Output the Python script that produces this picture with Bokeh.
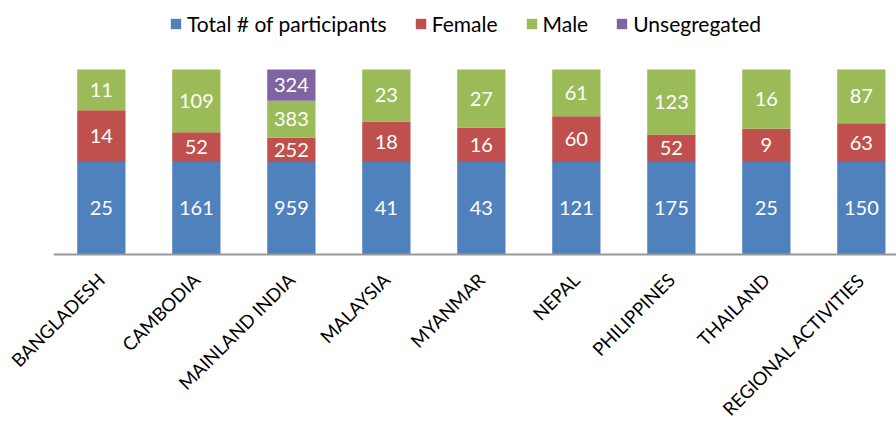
import numpy as np
from bokeh.plotting import figure
from bokeh.models import ColumnDataSource, Range1d, Legend, LegendItem, LabelSet
from bokeh.core.properties import value
from bokeh.embed import file_html
from bokeh.resources import INLINE

countries = ["BANGLADESH", "CAMBODIA", "MAINLAND INDIA", "MALAYSIA", "MYANMAR",
             "NEPAL", "PHILIPPINES", "THAILAND", "REGIONAL ACTIVITIES"]
total = [25, 161, 959, 41, 43, 121, 175, 25, 150]
female = [14, 52, 252, 18, 16, 60, 52, 9, 63]
male = [11, 109, 383, 23, 27, 61, 123, 16, 87]
unsegregated = [0, 0, 324, 0, 0, 0, 0, 0, 0]
series_names = ["Total # of participants", "Female", "Male", "Unsegregated"]
colors = ["#4F81BD", "#C0504D", "#9BBB59", "#8064A2"]

FONT = "Lato"

x = np.arange(len(countries))
vals = np.array([total, female, male, unsegregated], dtype=float)
sums = vals.sum(axis=0)
frac = vals / sums
keys = ["t", "f", "m", "u"]
data = {"x": x, "name": countries}
for k, row in zip(keys, frac):
    data[k] = row
src = ColumnDataSource(data)

# the plot frame covers the whole figure; ranges are chosen so that the
# 100% stack spans the band between the legend and the category labels
p = figure(width=896, height=421,
           x_range=Range1d(-1.0616, 8.370), y_range=Range1d(-0.9027, 1.373),
           x_axis_location=None, y_axis_location=None,
           output_backend="svg", toolbar_location=None, min_border=0)
p.outline_line_color = None
p.xgrid.visible = False
p.ygrid.visible = False

renderers = p.vbar_stack(keys, x="x", width=0.508, color=colors, line_color=None, source=src)

# category axis baseline
p.segment(x0=[x[0] - 0.5], x1=[x[-1] + 1.0], y0=[0], y1=[0], line_color="#989898", line_width=2)

# data labels
lx, ly, lt = [], [], []
cum = np.zeros(len(countries))
for s in range(len(keys)):
    for i in range(len(countries)):
        if vals[s, i] > 0:
            lx.append(x[i])
            ly.append(cum[i] + frac[s, i] / 2)
            lt.append(str(int(vals[s, i])))
    cum = cum + frac[s]
lsrc = ColumnDataSource(dict(x=lx, y=ly, t=lt))
p.text(x="x", y="y", text="t", source=lsrc, text_color="white", text_align="center",
       text_baseline="middle", text_font=value(FONT), text_font_size="20px")

# category labels
cat_labels = LabelSet(x="x", y=0, text="name", source=src, angle=np.pi / 4,
                      text_align="right", text_baseline="middle", x_offset=0, y_offset=-22,
                      text_font=value(FONT), text_font_size="18.5px", text_color="black")
p.add_layout(cat_labels)

items = [LegendItem(label=n, renderers=[r]) for n, r in zip(series_names, renderers)]
legend = Legend(items=items, location=(169, 385), orientation="horizontal",
                glyph_width=13, glyph_height=13, label_standoff=5, spacing=27,
                padding=0, margin=0, border_line_color=None, background_fill_alpha=0,
                label_text_font=FONT, label_text_font_size="21px", label_text_color="black")
p.add_layout(legend)

open("out.html", "w").write(file_html(p, INLINE))
